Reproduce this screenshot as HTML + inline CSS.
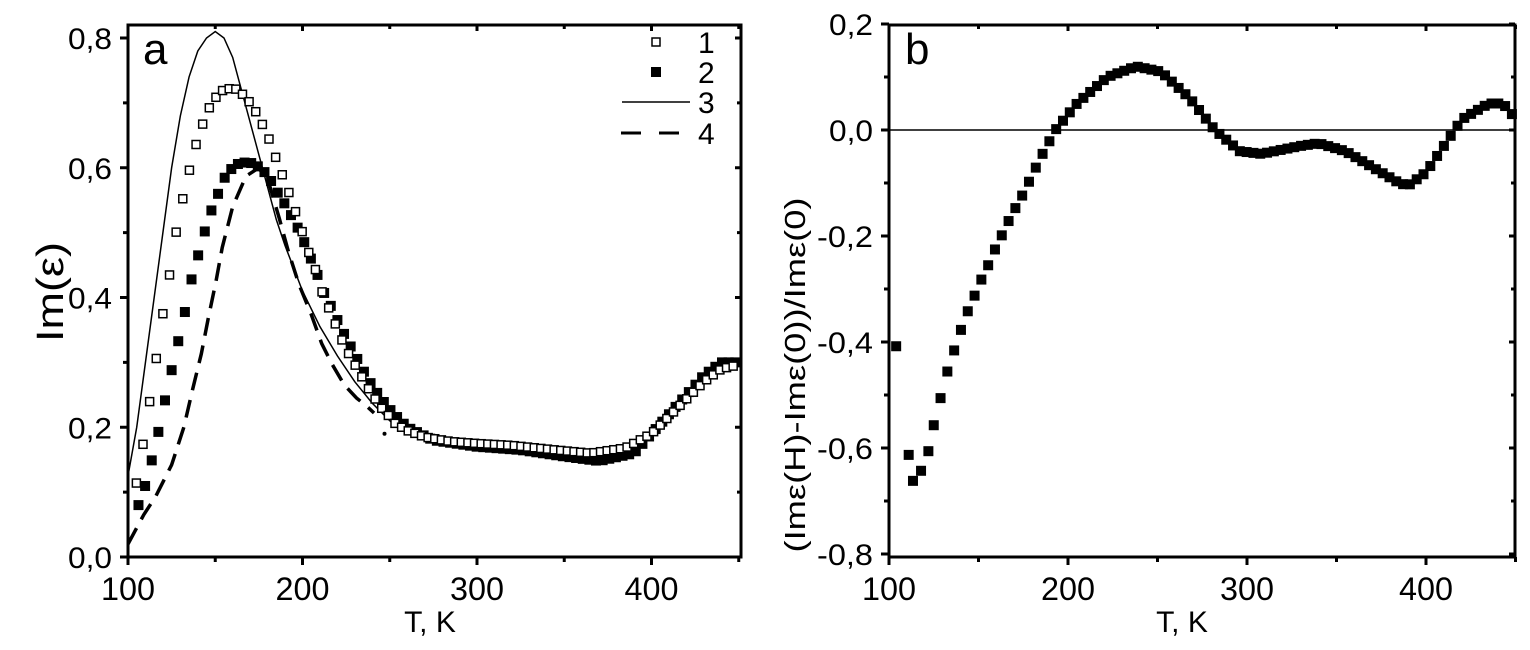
<!DOCTYPE html>
<html><head><meta charset="utf-8"><style>
html,body{margin:0;padding:0;background:#fff;}
svg{display:block;font-family:"Liberation Sans",sans-serif;}
</style></head><body>
<svg id="s" width="1530" height="650" xmlns="http://www.w3.org/2000/svg"></svg>
<script>
const S=document.getElementById('s');let h='';
function interp(pts,t){for(let i=0;i<pts.length-1;i++){if(t>=pts[i][0]&&t<=pts[i+1][0]){const a=pts[i],b=pts[i+1];return a[1]+(b[1]-a[1])*(t-a[0])/(b[0]-a[0]);}}return null;}
const lx=T=>128+(T-100)*1.745, ly=v=>557-v*648.75;
const rx=T=>889+(T-100)*1.79, ry=v=>130-v*530;
h+=`<rect x="128" y="25" width="613" height="532" fill="none" stroke="#000" stroke-width="3"/>`;
h+=`<rect x="889" y="25" width="626" height="532" fill="none" stroke="#000" stroke-width="3"/>`;
for(let T=100;T<=450;T+=50){const x=lx(T),maj=T%100==0;h+=`<line x1="${x}" y1="557" x2="${x}" y2="${557+(maj?8:5)}" stroke="#000" stroke-width="3"/><line x1="${x}" y1="25" x2="${x}" y2="${25+(maj?6:4)}" stroke="#000" stroke-width="3"/>`;if(maj&&T<450)h+=`<text x="${x}" y="600" font-size="32" text-anchor="middle" textLength="54" lengthAdjust="spacingAndGlyphs">${T}</text>`;}
for(let i=0;i<=8;i++){const v=i/10,y=ly(v),maj=i%2==0;h+=`<line x1="128" y1="${y}" x2="${128-(maj?8:5)}" y2="${y}" stroke="#000" stroke-width="3"/><line x1="741" y1="${y}" x2="${741-(maj?6:4)}" y2="${y}" stroke="#000" stroke-width="3"/>`;if(maj)h+=`<text x="112" y="${y+11}" font-size="30" text-anchor="end" textLength="44" lengthAdjust="spacingAndGlyphs">${v.toFixed(1).replace('.',',')}</text>`;}
for(let T=100;T<=450;T+=50){const x=rx(T),maj=T%100==0;h+=`<line x1="${x}" y1="557" x2="${x}" y2="${557+(maj?8:5)}" stroke="#000" stroke-width="3"/><line x1="${x}" y1="25" x2="${x}" y2="${25+(maj?6:4)}" stroke="#000" stroke-width="3"/>`;if(maj&&T<450)h+=`<text x="${x}" y="600" font-size="32" text-anchor="middle" textLength="54" lengthAdjust="spacingAndGlyphs">${T}</text>`;}
for(let i=0;i<=10;i++){const v=0.2-i*0.1,y=ry(v),maj=i%2==0;h+=`<line x1="889" y1="${y}" x2="${889-(maj?8:5)}" y2="${y}" stroke="#000" stroke-width="3"/><line x1="1515" y1="${y}" x2="${1515-(maj?6:4)}" y2="${y}" stroke="#000" stroke-width="3"/>`;if(maj){const t=(v<-1e-9?'-':'')+Math.abs(v).toFixed(1).replace('.',',');h+=`<text x="873" y="${y+11}" font-size="30" text-anchor="end" textLength="${t.length>3?56:44}" lengthAdjust="spacingAndGlyphs">${t}</text>`;}}
h+=`<line x1="889" y1="130" x2="1515" y2="130" stroke="#000" stroke-width="1.5"/>`;
h+=`<text x="430" y="632" font-size="30" text-anchor="middle">T, K</text>`;
h+=`<text x="1182" y="632" font-size="30" text-anchor="middle">T, K</text>`;
h+=`<text transform="translate(63,292) rotate(-90)" font-size="38" text-anchor="middle" textLength="100" lengthAdjust="spacingAndGlyphs">Im(ε)</text>`;
h+=`<text transform="translate(805,375) rotate(-90)" font-size="29" text-anchor="middle" textLength="355" lengthAdjust="spacingAndGlyphs">(Imε(H)-Imε(0))/Imε(0)</text>`;
h+=`<text x="143" y="64" font-size="44">a</text><text x="905" y="64" font-size="44">b</text>`;
h+=`<rect x="652" y="38" width="8" height="8" fill="#fff" stroke="#000" stroke-width="1.5"/><text x="698" y="53" font-size="30">1</text>`;
h+=`<rect x="651" y="67" width="10" height="10" fill="#000"/><text x="698" y="83" font-size="30">2</text>`;
h+=`<line x1="622" y1="102" x2="690" y2="102" stroke="#000" stroke-width="1.5"/><text x="698" y="113" font-size="30">3</text>`;
h+=`<line x1="621" y1="133" x2="641" y2="133" stroke="#000" stroke-width="3"/><line x1="659" y1="133" x2="679" y2="133" stroke="#000" stroke-width="3"/><text x="698" y="144" font-size="30">4</text>`;
const s1=[[104.8,.114],[109,.18],[113,.25],[117,.32],[120.6,.386],[124.8,.45],[128,.508],[132,.56],[135.8,.603],[139.6,.642],[143.4,.672],[147,.695],[151,.711],[155,.721],[158.7,.722],[162.5,.721],[165.7,.713],[170,.70],[174,.683],[177.7,.663],[181.5,.64],[185,.613],[189,.585],[193,.556],[196.8,.526],[200.6,.495],[204,.466],[208,.439],[211,.41],[215,.384],[219,.358],[223,.332],[226.7,.312],[231,.292],[235,.273],[238.7,.255],[242.5,.24],[246,.227],[250,.216],[253,.206],[260,.195],[270,.185],[285,.178],[300,.175],[320,.172],[345,.165],[365,.16],[385,.168],[400,.19],[415,.23],[430,.27],[440,.29],[448,.295]];
const s2=[[106,.08],[110,.111],[113.7,.15],[117.5,.194],[121,.239],[125,.288],[129,.335],[132.8,.38],[136,.424],[140,.463],[143.8,.5],[147,.529],[151,.555],[154,.579],[158,.595],[162,.605],[165.7,.608],[170,.608],[174,.603],[177.7,.595],[181.5,.582],[185,.565],[189,.548],[193,.529],[196.8,.51],[200.6,.488],[204,.465],[208,.44],[211,.414],[215,.394],[219,.371],[223,.348],[226.7,.329],[230.5,.31],[234.3,.29],[238,.272],[242,.256],[245.7,.242],[249.5,.229],[253,.219],[260,.20],[275,.18],[300,.17],[325,.165],[350,.155],[370,.148],[390,.16],[400,.19],[415,.235],[430,.28],[440,.30],[449,.30]];
function pts(arr,step,t0,t1){const o=[];for(let t=t0;t<=t1+0.01;t+=step)o.push([t,interp(arr,Math.min(t,arr[arr.length-1][0]))]);return o;}
const l3=[[100,.125],[105,.2],[110,.3],[115,.4],[120,.5],[125,.6],[130,.68],[135,.74],[140,.78],[145,.80],[150,.81],[155,.80],[160,.77],[165,.72],[170,.67],[175,.62],[180,.57],[185,.52],[190,.48],[200,.41],[210,.355],[220,.31],[230,.27],[240,.237],[250,.21],[253,.203]];
h+=`<polyline fill="none" stroke="#000" stroke-width="1.5" points="${l3.map(p=>lx(p[0])+','+ly(p[1])).join(' ')}"/>`;
const l4=[[100,.02],[104,.04],[109,.065],[116,.094],[125,.142],[132,.2],[137,.258],[142,.313],[146,.368],[150.5,.426],[154,.477],[160,.54],[167.6,.587],[175,.6],[181,.574],[186.7,.522],[192,.47],[198,.42],[205,.374],[211,.329],[217,.297],[224,.265],[231,.245],[237,.232],[241,.222]];
h+=`<polyline fill="none" stroke="#000" stroke-width="3.5" stroke-dasharray="18 10" points="${l4.map(p=>lx(p[0])+','+ly(p[1])).join(' ')}"/>`;
h+=`<circle cx="${lx(247)}" cy="${ly(.19)}" r="2" fill="#000"/>`;
pts(s2,3.8,106,449).forEach(p=>{h+=`<rect x="${lx(p[0])-5}" y="${ly(p[1])-5}" width="10" height="10" fill="#000"/>`;});
pts(s1,3.8,104.8,448).forEach(p=>{h+=`<rect x="${lx(p[0])-4}" y="${ly(p[1])-4}" width="8" height="8" fill="#fff" stroke="#000" stroke-width="1.5"/>`;});
const r=[[104,-.408],[111,-.613],[113.4,-.662],[117.9,-.643],[122,-.606],[125,-.557],[128.5,-.51],[132,-.462],[136,-.42],[140,-.379],[144,-.342],[148,-.311],[152,-.279],[156,-.251],[160,-.219],[164,-.192],[167.6,-.166],[175,-.12],[185,-.05],[193,0],[205,.05],[222,.1],[238,.12],[252,.11],[268,.06],[282,0],[296,-.04],[308,-.045],[330,-.03],[340,-.025],[355,-.04],[370,-.07],[385,-.1],[390,-.105],[400,-.08],[412,-.02],[420,.02],[435,.05],[443,.05],[448,.03],[450,.015]];
const rp=[[104,-.408],[111,-.613],[113.4,-.662],[117.9,-.643],[122,-.606]];
rp.forEach(p=>{h+=`<rect x="${rx(p[0])-5}" y="${ry(p[1])-5}" width="10" height="10" fill="#000"/>`;});
pts(r,3.8,125,450).forEach(p=>{h+=`<rect x="${rx(p[0])-5}" y="${ry(p[1])-5}" width="10" height="10" fill="#000"/>`;});
S.innerHTML=h;
</script>
</body></html>
